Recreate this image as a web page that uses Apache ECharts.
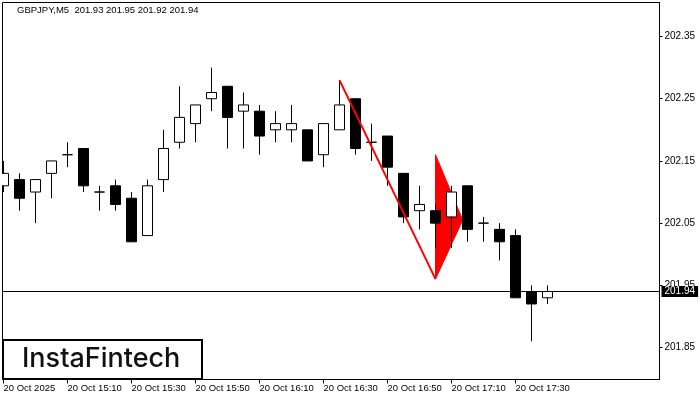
<!DOCTYPE html>
<html><head><meta charset="utf-8">
<script src="https://cdn.jsdelivr.net/npm/echarts@6/dist/echarts.min.js"></script>
<style>html,body{margin:0;padding:0;background:#fff;}#c{width:700px;height:400px;}</style>
</head><body><div id="c"></div>
<script>
const symbolName = 'GBPJPY,M5';
const opens  = [202.11,202.12,202.10,202.13,202.16,202.17,202.10,202.11,202.09,202.03,202.12,202.18,202.21,202.25,202.27,202.23,202.23,202.20,202.20,202.20,202.16,202.20,202.25,202.18,202.19,202.13,202.07,202.07,202.06,202.11,202.05,202.04,202.03,201.94,201.93];
const highs  = [202.15,202.13,202.12,202.15,202.18,202.17,202.11,202.12,202.10,202.12,202.20,202.27,202.24,202.30,202.27,202.26,202.24,202.23,202.24,202.20,202.21,202.28,202.25,202.21,202.19,202.13,202.11,202.08,202.11,202.11,202.06,202.05,202.04,201.95,201.95];
const lows   = [202.10,202.07,202.05,202.09,202.14,202.10,202.07,202.07,202.02,202.03,202.10,202.17,202.18,202.23,202.17,202.17,202.16,202.18,202.18,202.15,202.14,202.20,202.16,202.15,202.11,202.05,202.04,202.01,202.01,202.02,202.02,201.99,201.93,201.86,201.92];
const closes = [202.13,202.09,202.12,202.15,202.16,202.11,202.10,202.08,202.02,202.11,202.17,202.22,202.24,202.26,202.22,202.24,202.19,202.21,202.21,202.15,202.21,202.24,202.17,202.18,202.14,202.06,202.08,202.05,202.10,202.04,202.05,202.02,201.93,201.92,201.94];
const tickIndex  = [0,4,8,12,16,20,24,28,32];
const tickLabels = ['20 Oct 2025','20 Oct 15:10','20 Oct 15:30','20 Oct 15:50','20 Oct 16:10','20 Oct 16:30','20 Oct 16:50','20 Oct 17:10','20 Oct 17:30'];
const priceTicks = [201.85,201.95,202.05,202.15,202.25,202.35];
const poleX = [21, 27];
const poleY = [202.28, 201.96];
const pennantX = [27, 28.7, 27];
const pennantY = [202.16, 202.055, 201.96];
const logoText = 'InstaFintech';

const candles = opens.map((o,i)=>[i,o,closes[i],lows[i],highs[i]]);
const last = opens.length-1;
const header = symbolName + '  ' + [opens[last],highs[last],lows[last],closes[last]].map(v=>v.toFixed(2)).join(' ');
const font = 'Liberation Sans, Arial, sans-serif';

const chart = echarts.init(document.getElementById('c'), null, {renderer:'canvas'});
chart.setOption({
  animation:false,
  backgroundColor:'#fff',
  grid:{left:2.5,right:40.5,top:2.5,bottom:20.5,show:true,borderColor:'#000',borderWidth:1,backgroundColor:'#fff'},
  xAxis:{type:'value',min:-0.0625,max:41,
    axisLine:{show:true,onZero:false,lineStyle:{color:'#000',width:1}},
    axisTick:{show:true,length:4,lineStyle:{color:'#000'},customValues:tickIndex},
    axisLabel:{show:true,customValues:tickIndex,color:'#000',fontSize:9.5,fontFamily:font,align:'left',margin:4,
      formatter:v=>{const k=tickIndex.indexOf(Math.round(v));return k>=0?tickLabels[k]:'';}},
    splitLine:{show:false}},
  yAxis:{type:'value',position:'right',min:201.7986,max:202.4047,
    axisLine:{show:true,onZero:false,lineStyle:{color:'#000',width:1}},
    axisTick:{show:true,length:3,lineStyle:{color:'#000'},customValues:priceTicks},
    axisLabel:{show:true,customValues:priceTicks,color:'#000',fontSize:10,fontFamily:font,margin:5,formatter:v=>v.toFixed(2)},
    splitLine:{show:false}},
  series:[
    {type:'custom',z:1,silent:true,clip:true,
      data:pennantX.map((x,i)=>[x,pennantY[i]]),
      encode:{x:0,y:1},
      renderItem:(params,api)=>{
        if(params.dataIndex!==0) return null;
        const pts = pennantX.map((x,i)=>api.coord([x,pennantY[i]]));
        return {type:'polygon',shape:{points:pts},style:{fill:'#ff0000',stroke:'#ff0000',lineWidth:1}};
      }},
    {type:'candlestick',z:2,barWidth:10,clip:true,
      data:candles,
      encode:{x:0,y:[1,2,3,4]},
      itemStyle:{color:'#ffffff',color0:'#000000',borderColor:'#000000',borderColor0:'#000000',borderColorDoji:'#000000',borderWidth:1},
      markLine:{silent:true,symbol:'none',z:10,
        lineStyle:{color:'#000',width:1,type:'solid'},
        label:{show:true,position:'end',distance:2,formatter:()=>closes[last].toFixed(2),color:'#fff',backgroundColor:'#000',padding:[1,3,0,3],fontSize:10,fontFamily:font},
        emphasis:{disabled:true},
        data:[{yAxis:closes[last]}]}},
    {type:'line',z:5,silent:true,symbol:'none',clip:true,
      data:poleX.map((x,i)=>[x,poleY[i]]),
      lineStyle:{color:'#ff0000',width:2}}
  ],
  graphic:[
    {type:'rect',left:0,top:0,z:100,shape:{width:2,height:400},style:{fill:'#fff'}},
    {type:'text',left:17,top:5,style:{text:header,fill:'#000',fontSize:9.5,fontFamily:font}},
    {type:'group',left:2,top:339,children:[
      {type:'rect',shape:{x:1,y:1,width:199,height:39},style:{fill:'#fff',stroke:'#000',lineWidth:2}},
      {type:'text',x:20,y:20,style:{text:logoText,fill:'#111',fontSize:27,fontWeight:500,fontFamily:'Inter, Lato, sans-serif',verticalAlign:'middle'}}
    ]}
  ]
});
</script></body></html>
